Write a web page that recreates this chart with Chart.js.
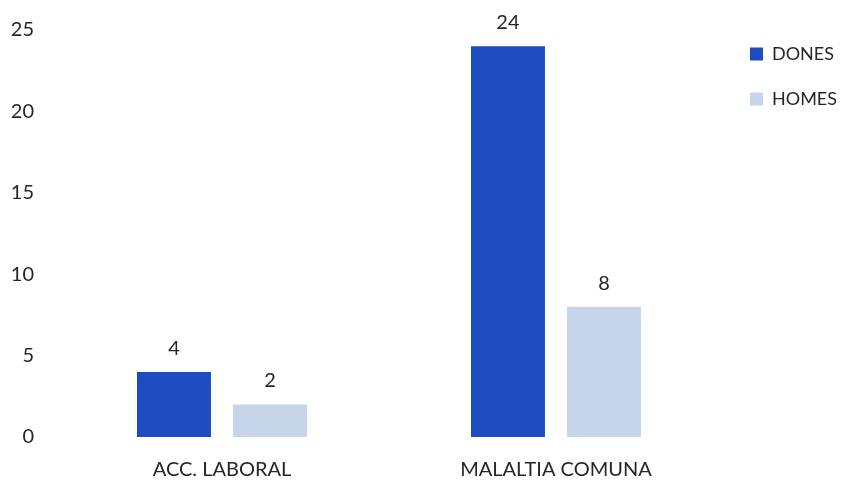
<!DOCTYPE html>
<html>
<head>
<meta charset="utf-8">
<script src="https://cdn.jsdelivr.net/npm/chart.js@4/dist/chart.umd.min.js"></script>
<style>
    html, body { margin: 0; padding: 0; background: #fff; }
    #wrap { width: 849px; height: 482px; position: relative; }
</style>
</head>
<body>
<div id="wrap"><canvas id="baixesChart"></canvas></div>
<script>
const categories = ["ACC. LABORAL", "MALALTIA COMUNA"];
const dones = [4, 24];
const homes = [2, 8];
const yTicks = [0, 5, 10, 15, 20, 25];

const textColor = "#262626";
const fontFamily = "Lato";

// etiquetes de valor damunt de cada barra
const valueLabels = {
    id: "valueLabels",
    afterDatasetsDraw(chart) {
        const { ctx } = chart;
        ctx.save();
        ctx.font = `20px ${fontFamily}`;
        ctx.fillStyle = textColor;
        ctx.textAlign = "center";
        ctx.textBaseline = "alphabetic";
        chart.data.datasets.forEach((ds, i) => {
            chart.getDatasetMeta(i).data.forEach((bar, j) => {
                ctx.fillText(ds.data[j], bar.x, bar.y - 17);
            });
        });
        ctx.restore();
    }
};

new Chart(document.getElementById("baixesChart"), {
    type: "bar",
    data: {
        labels: categories,
        datasets: [
            {
                label: "DONES",
                data: dones,
                backgroundColor: "#1d4cc0",
                barPercentage: 0.77,
                categoryPercentage: 0.575
            },
            {
                label: "HOMES",
                data: homes,
                backgroundColor: "#c6d5e9",
                barPercentage: 0.77,
                categoryPercentage: 0.575
            }
        ]
    },
    options: {
        responsive: true,
        maintainAspectRatio: false,
        animation: false,
        layout: {
            padding: { top: 18, left: 0, right: 2, bottom: 0 }
        },
        scales: {
            x: {
                grid: { display: false, drawTicks: false },
                border: { display: false },
                ticks: {
                    color: textColor,
                    font: { family: fontFamily, size: 20 },
                    padding: 21
                },
                afterFit: (axis) => {
                    axis.height = 45;
                }
            },
            y: {
                min: 0,
                max: 25,
                afterBuildTicks: (axis) => {
                    axis.ticks = yTicks.map((v) => ({ value: v }));
                },
                grid: { display: false, drawTicks: false },
                border: { display: false },
                ticks: {
                    color: textColor,
                    font: { family: fontFamily, size: 20 },
                    padding: 21
                },
                afterFit: (axis) => {
                    axis.width = 55;
                    axis.paddingTop = 30;
                }
            }
        },
        plugins: {
            legend: {
                position: "right",
                align: "start",
                labels: {
                    boxWidth: 13,
                    boxHeight: 13,
                    padding: 27,
                    color: textColor,
                    font: { family: fontFamily, size: 18 }
                }
            },
            tooltip: { enabled: false }
        }
    },
    plugins: [valueLabels]
});
</script>
</body>
</html>
